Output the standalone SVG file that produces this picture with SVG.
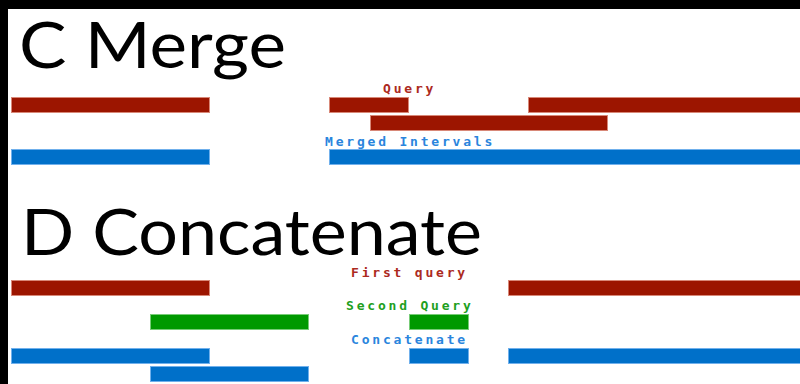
<svg xmlns="http://www.w3.org/2000/svg" width="800" height="384" viewBox="0 0 800 384">
<style>
.title{font-family:"Lato","Noto Sans","DejaVu Sans",sans-serif;font-size:64px;fill:#000}
.lbl{font-family:"DejaVu Sans Mono","Liberation Mono",monospace;font-size:13px;font-weight:bold;letter-spacing:2.8px}
.r{fill:#9c1500;stroke:#d88878;stroke-width:1}
.b{fill:#0070c9;stroke:#70b0ec;stroke-width:1}
.g{fill:#009900;stroke:#78cc78;stroke-width:1}
.tr{fill:#ac2a1e}
.tb{fill:#2a85dd}
.tg{fill:#1ea01e}
</style>
<rect x="0" y="0" width="800" height="384" fill="#fff"/>
<rect x="0" y="0" width="800" height="9" fill="#000"/>
<rect x="0" y="0" width="8" height="384" fill="#000"/>
<g id="merge">
<text class="title" x="19" y="68" textLength="267" lengthAdjust="spacingAndGlyphs">C Merge</text>
<g id="merge-query">
<text class="lbl tr" x="383" y="93">Query</text>
<rect class="r" x="11.5" y="97.5" width="198" height="15"/>
<rect class="r" x="329.5" y="97.5" width="79" height="15"/>
<rect class="r" x="528.5" y="97.5" width="272" height="15"/>
<rect class="r" x="370.5" y="115.5" width="237" height="15"/>
</g>
<g id="merge-result">
<text class="lbl tb" x="325" y="146">Merged Intervals</text>
<rect class="b" x="11.5" y="149.5" width="198" height="15"/>
<rect class="b" x="329.5" y="149.5" width="471" height="15"/>
</g>
</g>
<g id="concat">
<text class="title" x="21" y="255" textLength="461" lengthAdjust="spacingAndGlyphs">D Concatenate</text>
<g id="first-query">
<text class="lbl tr" x="351" y="277">First query</text>
<rect class="r" x="11.5" y="280.5" width="198" height="15"/>
<rect class="r" x="508.5" y="280.5" width="292" height="15"/>
</g>
<g id="second-query">
<text class="lbl tg" x="346" y="310">Second Query</text>
<rect class="g" x="150.5" y="314.5" width="158" height="15"/>
<rect class="g" x="409.5" y="314.5" width="59" height="15"/>
</g>
<g id="concat-result">
<text class="lbl tb" x="351" y="344">Concatenate</text>
<rect class="b" x="11.5" y="348.5" width="198" height="15"/>
<rect class="b" x="409.5" y="348.5" width="59" height="15"/>
<rect class="b" x="508.5" y="348.5" width="292" height="15"/>
<rect class="b" x="150.5" y="366.5" width="158" height="15"/>
</g>
</g>
<g id="connectors"/>
</svg>
